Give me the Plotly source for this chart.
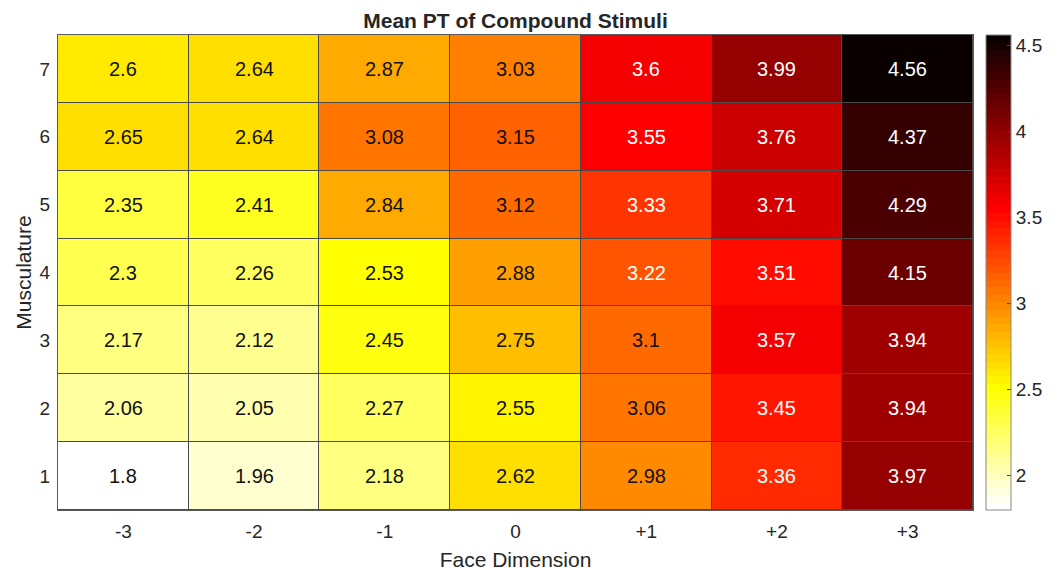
import plotly.graph_objects as go

x_labels = ['-3', '-2', '-1', '0', '+1', '+2', '+3']
y_labels = ['1', '2', '3', '4', '5', '6', '7']
z_values = [
    [1.8, 1.96, 2.18, 2.62, 2.98, 3.36, 3.97],
    [2.06, 2.05, 2.27, 2.55, 3.06, 3.45, 3.94],
    [2.17, 2.12, 2.45, 2.75, 3.1, 3.57, 3.94],
    [2.3, 2.26, 2.53, 2.88, 3.22, 3.51, 4.15],
    [2.35, 2.41, 2.84, 3.12, 3.33, 3.71, 4.29],
    [2.65, 2.64, 3.08, 3.15, 3.55, 3.76, 4.37],
    [2.6, 2.64, 2.87, 3.03, 3.6, 3.99, 4.56],
]
cbar_ticks = [2, 2.5, 3, 3.5, 4, 4.5]

xi_pos = list(range(len(x_labels)))
yi_pos = list(range(len(y_labels)))

# MATLAB flipud(hot(64)) as a stepped colorscale
n = 64
n1 = int(3 * n / 8)
r = [min(1.0, (i + 1) / n1) for i in range(n)]
g = [0.0 if i < n1 else min(1.0, (i - n1 + 1) / n1) for i in range(n)]
b = [0.0 if i < 2 * n1 else (i - 2 * n1 + 1) / (n - 2 * n1) for i in range(n)]
cols = [f"rgb({round(r[i]*255)},{round(g[i]*255)},{round(b[i]*255)})" for i in range(n)][::-1]
colorscale = []
for i, c in enumerate(cols):
    colorscale.append([i / n, c])
    colorscale.append([(i + 1) / n, c])

font = "Liberation Sans, Arial, sans-serif"
txt = '#262626'

fig = go.Figure(go.Heatmap(
    z=z_values, x=xi_pos, y=yi_pos,
    colorscale=colorscale, zmin=1.8, zmax=4.56,
    xgap=1, ygap=1,
    colorbar=dict(
        thickness=25, len=1, lenmode='fraction', y=0.5, yanchor='middle',
        x=1.014, xanchor='left', xpad=0, ypad=0,
        outlinecolor='#888', outlinewidth=1,
        tickvals=cbar_ticks, ticks='inside', ticklen=4, tickcolor='#444',
        tickfont=dict(family=font, size=19, color=txt),
    ),
    hoverinfo='skip',
))

for yi, row in enumerate(z_values):
    for xi, v in enumerate(row):
        fig.add_annotation(
            x=xi_pos[xi], y=yi_pos[yi], xref='x', yref='y',
            text=f"{v:g}", showarrow=False,
            font=dict(family=font, size=20, color='white' if v > 3.2 else '#111'),
        )

# page body adds an 8px offset, so the figure is sized to fit the window
fig.update_layout(
    width=1051, height=563,
    margin=dict(l=50, r=86, t=27, b=61, autoexpand=False),
    paper_bgcolor='white', plot_bgcolor='#4a4a4a',
    title=dict(text='<b>Mean PT of Compound Stimuli</b>', xref='paper', x=0.5, xanchor='center',
               y=0.977, yanchor='middle', font=dict(family=font, size=21, color=txt)),
    font=dict(family=font, color=txt),
)
fig.update_xaxes(range=[-0.5, len(x_labels) - 0.5], tickvals=xi_pos, ticktext=x_labels,
                 title=dict(text='Face Dimension', font=dict(size=21, color=txt), standoff=12),
                 tickfont=dict(size=19, color=txt), showgrid=False, zeroline=False,
                 showline=True, linecolor='#5a5a5a', linewidth=1, mirror=True,
                 ticks='', ticklabelstandoff=4, automargin=False)
fig.update_yaxes(range=[-0.5, len(y_labels) - 0.5], tickvals=yi_pos, ticktext=y_labels,
                 title=dict(text='Musculature', font=dict(size=21, color=txt), standoff=2),
                 tickfont=dict(size=19, color=txt), showgrid=False, zeroline=False,
                 showline=True, linecolor='#5a5a5a', linewidth=1, mirror=True,
                 ticks='', ticklabelstandoff=3, automargin=False)

fig.write_html("out.html")
